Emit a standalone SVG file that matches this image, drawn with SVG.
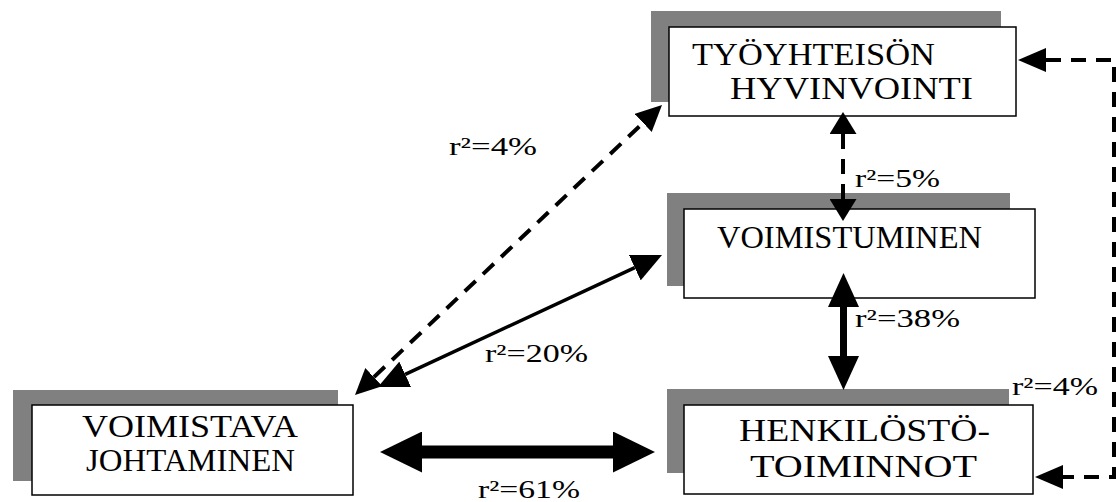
<svg xmlns="http://www.w3.org/2000/svg" width="1116" height="502" viewBox="0 0 1116 502">
  <style>
    .shadow { fill: #808080; }
    .box { fill: #ffffff; stroke: #000000; stroke-width: 1.5; }
    .name { font-family: "Liberation Serif", "Times New Roman", serif; font-size: 32px; fill: #000000; }
    .lbl { font-family: "Liberation Serif", "Times New Roman", serif; font-size: 25px; fill: #000000; }
    .dash { fill: none; stroke: #000000; stroke-width: 4; stroke-dasharray: 15 10; }
    .solid { fill: none; stroke: #000000; }
  </style>
  <defs>
    <marker id="hDash" viewBox="0 0 26 25" refX="0" refY="12.5" markerWidth="26" markerHeight="25" markerUnits="userSpaceOnUse" orient="auto-start-reverse">
      <path d="M0,0 L26,12.5 L0,25 Z" fill="#000"/>
    </marker>
    <marker id="hDashV" viewBox="0 0 22 27" refX="0" refY="13.5" markerWidth="22" markerHeight="27" markerUnits="userSpaceOnUse" orient="auto-start-reverse">
      <path d="M0,0 L22,13.5 L0,27 Z" fill="#000"/>
    </marker>
    <marker id="hSide" viewBox="0 0 28 24" refX="0" refY="12" markerWidth="28" markerHeight="24" markerUnits="userSpaceOnUse" orient="auto-start-reverse">
      <path d="M0,0 L28,12 L0,24 Z" fill="#000"/>
    </marker>
    <marker id="hThin" viewBox="0 0 30 28" refX="0" refY="14" markerWidth="30" markerHeight="28" markerUnits="userSpaceOnUse" orient="auto-start-reverse">
      <path d="M0,0 L30,14 L0,28 Z" fill="#000"/>
    </marker>
    <marker id="hThick" viewBox="0 0 34 31" refX="0" refY="15.5" markerWidth="34" markerHeight="31" markerUnits="userSpaceOnUse" orient="auto-start-reverse">
      <path d="M0,0 L34,15.5 L0,31 Z" fill="#000"/>
    </marker>
    <marker id="hBold" viewBox="0 0 42 41" refX="0" refY="20.5" markerWidth="42" markerHeight="41" markerUnits="userSpaceOnUse" orient="auto-start-reverse">
      <path d="M0,0 L42,20.5 L0,41 Z" fill="#000"/>
    </marker>
  </defs>

  <g id="tyoyhteison-hyvinvointi">
    <rect class="shadow" x="651" y="11" width="350" height="91"/>
    <rect class="box" x="669" y="27" width="347" height="89"/>
    <text class="name" x="692" y="65" textLength="243" lengthAdjust="spacingAndGlyphs">TYÖYHTEISÖN</text>
    <text class="name" x="730" y="99" textLength="243" lengthAdjust="spacingAndGlyphs">HYVINVOINTI</text>
  </g>

  <g id="voimistuminen">
    <rect class="shadow" x="667" y="193" width="343" height="93"/>
    <rect class="box" x="684" y="209" width="351" height="89"/>
    <text class="name" x="717" y="248" textLength="265" lengthAdjust="spacingAndGlyphs">VOIMISTUMINEN</text>
  </g>

  <g id="henkilosto-toiminnot">
    <rect class="shadow" x="667" y="389" width="342" height="84"/>
    <rect class="box" x="684" y="405" width="349" height="89"/>
    <text class="name" x="739" y="441" textLength="251" lengthAdjust="spacingAndGlyphs">HENKILÖSTÖ-</text>
    <text class="name" x="750" y="477" textLength="227" lengthAdjust="spacingAndGlyphs">TOIMINNOT</text>
  </g>

  <g id="voimistava-johtaminen">
    <rect class="shadow" x="13" y="390" width="325" height="91"/>
    <rect class="box" x="32" y="405" width="321" height="90"/>
    <text class="name" x="82" y="437" textLength="216" lengthAdjust="spacingAndGlyphs">VOIMISTAVA</text>
    <text class="name" x="86" y="471" textLength="209" lengthAdjust="spacingAndGlyphs">JOHTAMINEN</text>
  </g>

  <g id="connectors">
    <!-- johtaminen <-> hyvinvointi (dashed diagonal) -->
    <line class="dash" x1="373.9" y1="377.1" x2="643.1" y2="122.9" marker-start="url(#hDash)" marker-end="url(#hDash)"/>
    <!-- johtaminen <-> voimistuminen -->
    <line class="solid" stroke-width="3.5" x1="405.2" y1="374.3" x2="634.8" y2="267.7" marker-start="url(#hThin)" marker-end="url(#hThin)"/>
    <!-- hyvinvointi <-> voimistuminen -->
    <line class="dash" x1="843" y1="134" x2="843" y2="199" stroke-dasharray="12 8" marker-start="url(#hDashV)" marker-end="url(#hDashV)"/>
    <!-- voimistuminen <-> henkilöstötoiminnot -->
    <line class="solid" stroke-width="7" x1="843.5" y1="307" x2="843.5" y2="356" marker-start="url(#hThick)" marker-end="url(#hThick)"/>
    <!-- johtaminen <-> henkilöstötoiminnot -->
    <line class="solid" stroke-width="13" x1="422" y1="452" x2="613" y2="452" marker-start="url(#hBold)" marker-end="url(#hBold)"/>
    <!-- hyvinvointi <-> henkilöstötoiminnot (right side loop) -->
    <path class="dash" d="M1046,60 H1114 V477 H1063" stroke-width="4.5" stroke-dasharray="17 11" marker-start="url(#hSide)" marker-end="url(#hSide)"/>
  </g>

  <g id="labels">
    <text class="lbl" x="449" y="155" textLength="88" lengthAdjust="spacingAndGlyphs">r²=4%</text>
    <text class="lbl" x="855" y="187" textLength="85" lengthAdjust="spacingAndGlyphs">r²=5%</text>
    <text class="lbl" x="855" y="327" textLength="105" lengthAdjust="spacingAndGlyphs">r²=38%</text>
    <text class="lbl" x="485" y="362" textLength="103" lengthAdjust="spacingAndGlyphs">r²=20%</text>
    <text class="lbl" x="1012" y="395" textLength="86" lengthAdjust="spacingAndGlyphs">r²=4%</text>
    <text class="lbl" x="478" y="498" textLength="102" lengthAdjust="spacingAndGlyphs">r²=61%</text>
  </g>
</svg>
